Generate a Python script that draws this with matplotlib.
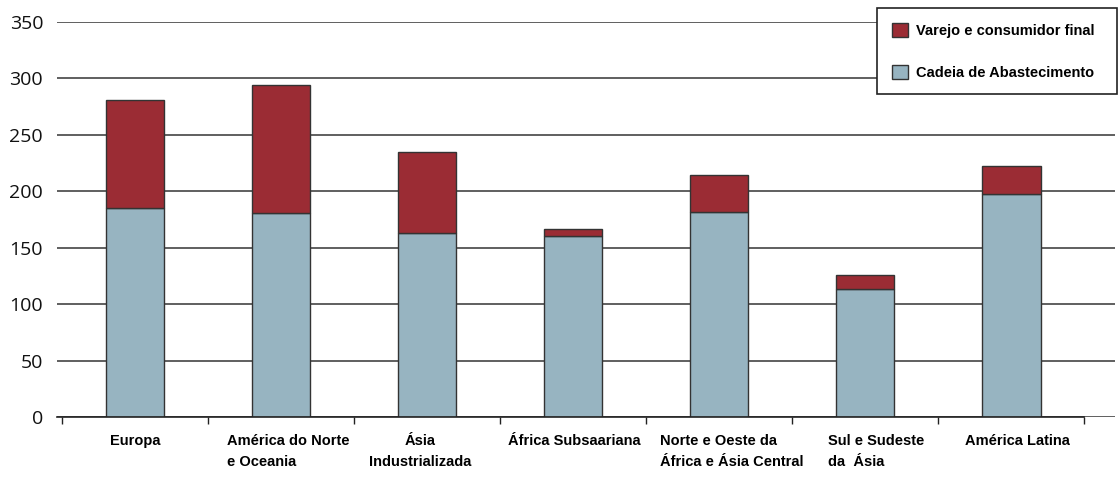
import numpy as np
import matplotlib.pyplot as plt
from matplotlib.patches import Patch
from matplotlib.transforms import ScaledTranslation

regioes = ["Europa", "América do Norte\ne Oceania", "Ásia\nIndustrializada",
           "África Subsaariana", "Norte e Oeste da\nÁfrica e Ásia Central",
           "Sul e Sudeste\nda  Ásia", "América Latina"]
alinhamento = ["center", "left", "center", "center", "left", "left", "center"]
deslocamento = [0, 7, -7, 1, 13, 11, 6]  # horizontal nudge of each label, in pixels
cadeia = [185, 181, 163, 160, 182, 113, 198]
total = [281, 294, 235, 167, 214, 126, 222]
varejo = [t - c for t, c in zip(total, cadeia)]

cor_cadeia = "#97b4c1"
cor_varejo = "#9b2c34"

fig = plt.figure(figsize=(11.18, 4.78), dpi=100)
ax = fig.add_axes([57 / 1118, 61 / 478, 1058 / 1118, 395 / 478])

x = np.arange(len(regioes))
ax.bar(x, cadeia, width=0.4, color=cor_cadeia, edgecolor="#333333", linewidth=1, zorder=3)
ax.bar(x, varejo, width=0.4, bottom=cadeia, color=cor_varejo, edgecolor="#333333",
       linewidth=1, zorder=3)

ax.set_ylim(0, 350)
ax.set_xlim(-0.534, 6.71)
ax.set_yticks(range(0, 351, 50))
ax.yaxis.grid(True, color="#444444", linewidth=1.2, zorder=0)
ax.tick_params(axis="y", length=0, pad=10, labelsize=14, labelcolor="#111111")
for t in ax.get_yticklabels():
    t.set_fontfamily("Open Sans")

for s in ["top", "right", "left"]:
    ax.spines[s].set_visible(False)
ax.spines["bottom"].set_bounds(-0.534, 6.5)
ax.spines["bottom"].set_color("#222222")
ax.spines["bottom"].set_linewidth(1.2)
ax.spines["bottom"].set_zorder(4)

# ticks at the category boundaries, labels at the centres
ax.set_xticks(np.arange(-0.5, 7, 1), minor=True)
ax.set_xticks(x)
ax.set_xticklabels(regioes, fontfamily="Liberation Sans", fontweight="bold", fontsize=10.5,
                   linespacing=1.7)
ax.tick_params(axis="x", which="major", length=0, pad=12)
ax.tick_params(axis="x", which="minor", length=5, width=1, color="#222222")
for t, a, dx in zip(ax.get_xticklabels(), alinhamento, deslocamento):
    t.set_verticalalignment("top")
    t.set_multialignment(a)
    t.set_transform(t.get_transform() + ScaledTranslation(dx / 100, 0, fig.dpi_scale_trans))

handles = [Patch(facecolor=cor_varejo, edgecolor="#333333", label="Varejo e consumidor final"),
           Patch(facecolor=cor_cadeia, edgecolor="#333333", label="Cadeia de Abastecimento")]
leg = ax.legend(handles=handles, loc="upper left", mode="expand",
                bbox_to_anchor=(877 / 1118, 383 / 478, 240 / 1118, 87 / 478),
                bbox_transform=fig.transFigure, borderaxespad=0, fancybox=False, framealpha=1,
                edgecolor="#222222", labelspacing=1.87, handlelength=1.1, handleheight=1.1,
                borderpad=1.0, handletextpad=0.55,
                prop={"family": "Liberation Sans", "weight": "bold", "size": 10.5})
leg.get_frame().set_linewidth(1.2)
leg.set_zorder(5)

fig.savefig("out.png", dpi=100)
